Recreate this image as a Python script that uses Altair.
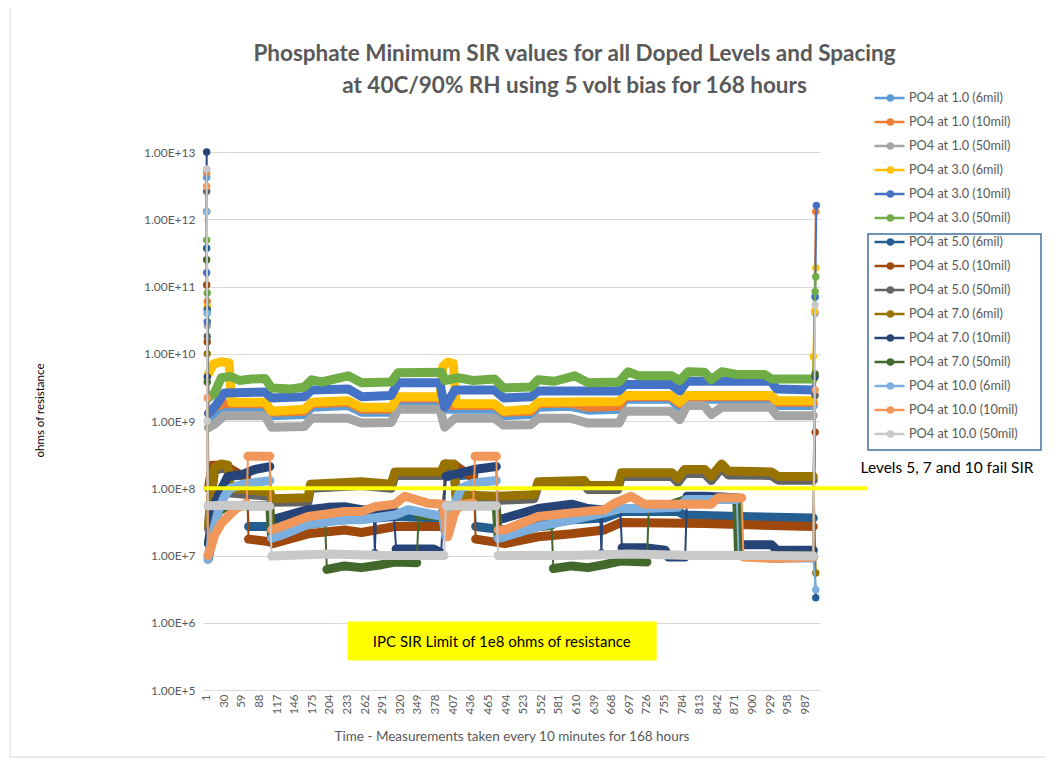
import altair as alt
import pandas as pd

# ---------------- data ----------------
SERIES = [
    "PO4 at 1.0 (6mil)", "PO4 at 1.0 (10mil)", "PO4 at 1.0  (50mil)",
    "PO4 at 3.0 (6mil)", "PO4 at 3.0 (10mil)", "PO4 at 3.0 (50mil)",
    "PO4 at 5.0 (6mil)", "PO4 at 5.0 (10mil)", "PO4 at 5.0 (50mil)",
    "PO4 at 7.0 (6mil)", "PO4 at 7.0 (10mil)", "PO4 at 7.0 (50mil)",
    "PO4 at 10.0 (6mil)", "PO4 at 10.0 (10mil)", "PO4 at 10.0 (50mil)",
]
COLORS = [
    "#5B9BD5", "#ED7D31", "#A5A5A5", "#FFC000", "#4472C4", "#70AD47",
    "#255E91", "#9E480E", "#636363", "#997300", "#264478", "#43682B",
    "#7CAFDD", "#F1975A", "#C9C9C9",
]

# each series: list of segments of (measurement, ohms); one-point segments are lone markers
S01 = [[(1, 4.2e12)], [(2, 4.0e10)],
       [(4, 1.0e9), (14, 1.3e9), (30, 1.6e9), (97, 1.6e9), (108, 1.2e9), (162, 1.25e9), (174, 1.6e9),
        (234, 1.7e9), (256, 1.35e9), (305, 1.35e9), (316, 2.0e9), (385, 2.0e9), (393, 1.5e9), (475, 1.5e9),
        (490, 1.2e9), (535, 1.25e9), (547, 1.6e9), (600, 1.65e9), (629, 1.45e9), (680, 1.5e9), (690, 2.1e9),
        (765, 2.1e9), (780, 1.6e9), (792, 2.1e9), (930, 2.1e9), (940, 1.7e9), (1000, 1.7e9)],
       [(1003, 7.0e10)]]
S02 = [[(1, 5.0e12)], [(2, 6.0e10)],
       [(4, 1.3e9), (14, 1.6e9), (30, 1.8e9), (97, 1.8e9), (108, 1.35e9), (162, 1.4e9), (174, 1.8e9),
        (234, 1.9e9), (256, 1.5e9), (305, 1.5e9), (316, 2.2e9), (385, 2.2e9), (393, 1.7e9), (475, 1.7e9),
        (490, 1.35e9), (535, 1.4e9), (547, 1.8e9), (600, 1.85e9), (629, 1.6e9), (680, 1.65e9), (690, 2.3e9),
        (765, 2.3e9), (780, 1.8e9), (792, 2.3e9), (930, 2.3e9), (940, 1.9e9), (1000, 1.9e9)],
       [(1004, 1.3e12)]]
S03 = [[(1, 5.5e12)], [(2, 2.6e10)],
       [(4, 8.0e8), (14, 9.0e8), (30, 1.2e9), (97, 1.2e9), (108, 8.1e8), (162, 8.3e8), (174, 1.1e9),
        (234, 1.1e9), (256, 9.3e8), (305, 9.5e8), (316, 1.5e9), (385, 1.5e9), (393, 8.1e8), (410, 1.1e9),
        (475, 1.1e9), (490, 8.7e8), (535, 8.8e8), (547, 1.1e9), (600, 1.1e9), (629, 9.3e8), (680, 9.3e8),
        (690, 1.4e9), (765, 1.4e9), (780, 1.05e9), (792, 1.7e9), (820, 1.7e9), (832, 1.25e9), (849, 1.6e9),
        (930, 1.6e9), (940, 1.2e9), (1000, 1.2e9)],
       [(1003, 4.0e10)]]
S04 = [[(1, 1.3e12)], [(2, 5.0e10)],
       [(4, 5.0e9), (12, 7.0e9), (25, 7.6e9), (38, 7.3e9), (42, 1.9e9), (97, 1.9e9), (108, 1.4e9),
        (162, 1.5e9), (174, 1.9e9), (234, 2.0e9), (256, 1.6e9), (305, 1.6e9), (316, 2.3e9), (385, 2.3e9),
        (390, 6.5e9), (398, 7.5e9), (407, 7.2e9), (412, 1.8e9), (475, 1.8e9), (490, 1.4e9), (535, 1.5e9),
        (547, 1.9e9), (680, 1.95e9), (690, 2.4e9), (765, 2.4e9), (780, 1.9e9), (792, 2.4e9), (930, 2.4e9),
        (940, 2.0e9), (998, 2.0e9)],
       [(1000, 9.0e9)], [(1002, 4.3e10)], [(1004, 1.9e11)]]
S05 = [[(1, 1.6e11)], [(2, 3.0e10)],
       [(4, 1.3e9), (14, 1.6e9), (30, 2.6e9), (97, 2.7e9), (108, 2.2e9), (162, 2.3e9), (174, 2.9e9),
        (234, 3.0e9), (256, 2.3e9), (305, 2.4e9), (316, 3.7e9), (385, 3.7e9), (393, 1.6e9), (410, 2.9e9),
        (475, 2.9e9), (490, 2.2e9), (535, 2.3e9), (547, 2.8e9), (680, 2.8e9), (690, 3.5e9), (765, 3.5e9),
        (780, 2.8e9), (792, 3.9e9), (930, 3.9e9), (940, 3.0e9), (1000, 2.9e9)],
       [(1003, 7.0e10)], [(1005, 1.6e12)]]
S06 = [[(1, 4.9e11)], [(2, 8.0e10)],
       [(4, 2.2e9), (14, 2.6e9), (25, 4.4e9), (40, 4.6e9), (55, 4.0e9), (75, 4.2e9), (97, 4.3e9),
        (108, 3.1e9), (140, 3.0e9), (162, 3.2e9), (174, 4.1e9), (190, 3.8e9), (201, 4.0e9), (234, 4.7e9),
        (256, 3.7e9), (305, 3.8e9), (316, 5.2e9), (388, 5.3e9), (393, 4.0e9), (415, 4.4e9), (440, 4.0e9),
        (475, 4.2e9), (490, 3.1e9), (535, 3.2e9), (547, 4.1e9), (574, 3.9e9), (607, 4.7e9), (629, 3.7e9),
        (680, 3.8e9), (695, 5.4e9), (712, 4.7e9), (767, 4.7e9), (780, 4.0e9), (794, 5.4e9), (821, 5.3e9),
        (832, 4.1e9), (849, 5.4e9), (876, 4.9e9), (920, 4.9e9), (931, 4.2e9), (1000, 4.2e9)],
       [(1003, 8.4e10)], [(1004, 1.4e11)]]
S07 = [[(1, 3.7e11)], [(2, 4.5e10)],
       [(4, 1.5e7), (14, 6.0e7), (36, 1.5e8), (67, 1.6e8)],
       [(70, 2.7e7), (105, 2.7e7), (108, 2.6e7), (168, 3.2e7), (256, 3.5e7), (311, 3.8e7), (387, 3.6e7)],
       [(395, 1.5e8), (441, 1.6e8)],
       [(444, 2.7e7), (492, 2.4e7), (547, 2.8e7), (602, 3.4e7), (656, 3.6e7), (684, 4.5e7), (777, 4.5e7),
        (788, 4.0e7), (876, 3.8e7), (1000, 3.6e7)],
       [(1004, 2.35e6)]]
S08 = [[(1, 1.05e11)], [(2, 1.5e10)],
       [(4, 1.0e8), (10, 2.2e8), (30, 2.2e8), (67, 1.4e8)],
       [(70, 1.75e7), (105, 1.6e7), (110, 1.5e7), (168, 2.1e7), (228, 2.4e7), (256, 2.2e7), (311, 2.7e7),
        (390, 2.7e7)],
       [(393, 2.3e8), (410, 2.2e8), (441, 1.4e8)],
       [(444, 1.75e7), (492, 1.5e7), (547, 1.9e7), (602, 2.1e7), (656, 2.4e7), (684, 3.1e7), (821, 3.0e7),
        (931, 2.8e7), (1000, 2.7e7)],
       [(1003, 6.8e8)]]
S09 = [[(1, 2.6e12)], [(2, 1.8e10)],
       [(4, 2.5e7), (8, 7.0e7), (14, 1.8e8), (25, 2.0e8), (36, 1.9e8), (40, 8.5e7), (105, 7.6e7),
        (108, 6.2e7), (168, 6.3e7), (172, 1.0e8), (256, 1.1e8), (305, 1.0e8), (311, 1.55e8), (387, 1.55e8),
        (393, 2.0e8), (408, 2.0e8), (412, 6.8e7), (479, 6.6e7), (540, 7.0e7), (547, 1.1e8), (623, 1.15e8),
        (629, 9.6e7), (678, 9.6e7), (684, 1.5e8), (767, 1.5e8), (777, 1.22e8), (788, 1.65e8), (821, 1.65e8),
        (832, 1.3e8), (849, 2.0e8), (860, 1.58e8), (931, 1.55e8), (942, 1.32e8), (1000, 1.32e8)],
       [(1003, 2.4e9)]]
S10 = [[(1, 1.3e12)], [(2, 1.0e10)],
       [(4, 2.7e7), (8, 8.0e7), (14, 2.0e8), (25, 2.3e8), (36, 2.2e8), (40, 1.0e8), (105, 8.8e7),
        (108, 7.0e7), (168, 7.2e7), (172, 1.15e8), (256, 1.25e8), (305, 1.15e8), (311, 1.75e8), (387, 1.75e8),
        (393, 2.3e8), (408, 2.3e8), (412, 8.0e7), (479, 7.6e7), (540, 8.0e7), (547, 1.25e8), (623, 1.3e8),
        (629, 1.1e8), (678, 1.1e8), (684, 1.7e8), (767, 1.7e8), (777, 1.4e8), (788, 1.9e8), (821, 1.9e8),
        (832, 1.5e8), (849, 2.3e8), (860, 1.8e8), (931, 1.75e8), (942, 1.5e8), (1000, 1.5e8)],
       [(1004, 5.5e6)]]
S11 = [[(1, 1.0e13)], [(2, 4.5e9)],
       [(4, 1.5e7), (14, 6.0e7), (36, 1.5e8), (60, 1.6e8), (80, 1.9e8), (105, 2.1e8)],
       [(108, 3.4e7), (168, 4.8e7), (201, 5.2e7), (228, 5.3e7), (256, 4.8e7), (276, 4.8e7)],
       [(278, 1.1e7)],
       [(280, 4.8e7), (309, 4.8e7)],
       [(313, 1.25e7), (340, 1.25e7), (375, 1.25e7), (387, 1.1e7)],
       [(395, 1.5e8), (420, 1.7e8), (441, 1.9e8), (478, 2.1e8)],
       [(481, 3.4e7), (492, 3.6e7), (547, 5.0e7), (602, 5.8e7), (629, 5.0e7), (649, 4.8e7)],
       [(651, 1.1e7)],
       [(653, 4.8e7), (682, 4.8e7)],
       [(685, 1.3e7), (722, 1.3e7), (756, 1.2e7), (761, 9.5e6), (789, 9.5e6)],
       [(792, 7.6e7), (821, 7.6e7), (874, 7.2e7)],
       [(877, 1.45e7), (931, 1.45e7), (940, 1.2e7), (1000, 1.2e7)],
       [(1003, 4.6e9)]]
S12 = [[(1, 2.5e11)], [(2, 3.8e9)],
       [(4, 9.0e6), (10, 2.0e7), (20, 4.5e7), (36, 5.5e7), (67, 5.5e7), (105, 5.5e7), (108, 1.8e7),
        (168, 2.9e7), (196, 3.1e7)],
       [(199, 6.2e6), (228, 7.0e6), (256, 6.6e6), (289, 7.3e6), (311, 8.0e6), (347, 7.8e6)],
       [(350, 4.0e7), (387, 3.8e7), (393, 5.5e7), (478, 5.5e7), (481, 1.8e7), (492, 1.9e7), (547, 2.7e7),
        (569, 2.8e7)],
       [(572, 6.4e6), (602, 7.0e6), (629, 6.6e6), (656, 7.3e6), (684, 8.3e6), (726, 8.0e6)],
       [(729, 5.0e7), (760, 5.5e7), (790, 6.8e7), (874, 6.8e7), (877, 1.0e7), (1000, 1.0e7)],
       [(1003, 5.0e9)]]
S13 = [[(1, 1.3e12)], [(2, 4.0e10)],
       [(3, 8.7e6), (10, 2.0e7), (20, 4.5e7), (30, 7.5e7), (40, 1.0e8), (60, 1.15e8), (105, 1.3e8)],
       [(108, 1.8e7), (124, 2.0e7), (168, 2.9e7), (228, 3.4e7), (256, 3.4e7), (311, 4.0e7), (333, 4.8e7),
        (390, 3.8e7), (395, 1.9e7), (405, 4.5e7), (420, 1.0e8), (441, 1.2e8), (478, 1.3e8)],
       [(481, 1.8e7), (492, 1.9e7), (547, 2.7e7), (602, 3.4e7), (656, 4.3e7), (684, 5.0e7), (722, 5.0e7),
        (777, 5.2e7), (791, 6.8e7), (874, 6.8e7)],
       [(877, 1.0e7), (931, 9.2e6), (1000, 9.2e6)],
       [(1004, 3.1e6)]]
S14 = [[(1, 3.1e12)], [(2, 2.2e9)],
       [(3, 1.0e7), (8, 1.3e7), (14, 2.0e7), (25, 3.0e7), (36, 3.8e7), (50, 5.0e7), (67, 6.0e7)],
       [(69, 3.0e8), (105, 3.0e8)],
       [(108, 2.4e7), (124, 2.7e7), (168, 3.8e7), (228, 4.5e7), (256, 4.5e7), (278, 5.3e7), (311, 5.8e7),
        (327, 7.6e7), (365, 6.0e7), (390, 5.8e7), (398, 1.9e7), (410, 4.5e7), (420, 5.8e7), (440, 6.0e7)],
       [(443, 3.0e8), (478, 3.0e8)],
       [(481, 2.4e7), (492, 2.4e7), (547, 3.8e7), (602, 4.3e7), (656, 4.8e7), (673, 6.0e7), (700, 7.6e7),
        (722, 5.8e7), (832, 5.8e7), (843, 7.2e7), (882, 7.2e7)],
       [(885, 9.5e6), (940, 9.0e6), (1000, 9.5e6)],
       [(1003, 2.9e9)]]
S15 = [[(1, 5.6e12)], [(2, 1.0e9)],
       [(3, 5.5e7), (50, 5.6e7), (105, 5.4e7)],
       [(108, 9.8e6), (200, 1.05e7), (300, 1.0e7), (392, 1.0e7)],
       [(395, 5.5e7), (478, 5.5e7)],
       [(481, 1.0e7), (600, 1.0e7), (700, 1.05e7), (800, 1.0e7), (900, 1.0e7), (1000, 9.8e6)],
       [(1003, 5.3e10)]]

ALL = [S01, S02, S03, S04, S05, S06, S07, S08, S09, S10, S11, S12, S13, S14, S15]

X_TICKS = [1, 30, 59, 88, 117, 146, 175, 204, 233, 262, 291, 320, 349, 378, 407, 436, 465, 494,
           523, 552, 581, 610, 639, 668, 697, 726, 755, 784, 813, 842, 871, 900, 929, 958, 987]
Y_TICKS = [1e5, 1e6, 1e7, 1e8, 1e9, 1e10, 1e11, 1e12, 1e13]
SIR_LIMIT = 1e8
IPC_NOTE = "IPC SIR Limit of 1e8 ohms of resistance"
FAIL_NOTE = "Levels 5, 7 and 10 fail SIR"

# marker legend keys (a separate key set so the marker legend stays its own legend)
DOT_KEYS = [s + " " for s in SERIES]

# ---------------- build table ----------------
rows = []
for name, key, segs in zip(SERIES, DOT_KEYS, ALL):
    for j, seg in enumerate(segs):
        for (m, v) in seg:
            rows.append({"series": name, "series_dot": key, "seg": j, "n": len(seg), "m": m, "v": v})
df = pd.DataFrame(rows)

FONT = "Lato"
XS = alt.Scale(domain=[-5, 1011], nice=False, zero=False)
YS = alt.Scale(type="log", domain=[1e5, 1e13], nice=False)
X_AXIS = alt.Axis(values=X_TICKS, labelAngle=-90, grid=False, ticks=False,
                  domainColor="#D9D9D9", labelColor="#595959", labelFontSize=11.5,
                  labelPadding=4, title="Time - Measurements taken every 10 minutes for 168 hours",
                  titleFontSize=13.5, titleColor="#595959", titleFontWeight="normal",
                  titlePadding=15)
Y_AXIS = alt.Axis(values=Y_TICKS, labelExpr="replace(format(datum.value, '.2e'), 'e', 'E')",
                  grid=True, gridColor="#D9D9D9", domain=False, ticks=False,
                  labelColor="#595959", labelFontSize=12, labelPadding=8,
                  title="ohms of resistance", titleFontSize=11.5, titleFontWeight="normal",
                  titleColor="#000000", titleX=-163, titleY=258, titleAngle=-90,
                  titleAlign="center", titleBaseline="middle")


def X(field):
    return alt.X(field, scale=XS, axis=X_AXIS)


def Y(field):
    return alt.Y(field, scale=YS, axis=Y_AXIS)


stroke_scale = alt.Scale(domain=SERIES, range=COLORS)
fill_scale = alt.Scale(domain=DOT_KEYS, range=COLORS)
leg_lines = alt.Legend(title=None, orient="none", legendX=670, legendY=-66, symbolType="stroke",
                       symbolSize=900, symbolStrokeWidth=2.5, clipHeight=24, rowPadding=0, padding=0,
                       labelFont=FONT, labelFontSize=12.7, labelColor="#595959", labelOffset=3,
                       labelLimit=220)
leg_dots = alt.Legend(title=None, orient="none", legendX=681, legendY=-66, symbolType="circle",
                      symbolSize=55, symbolStrokeWidth=0, clipHeight=24, rowPadding=0, padding=0,
                      labelExpr="''", labelFontSize=12.7)

base = alt.Chart(df)
layers = []
for name in SERIES:
    b = base.transform_filter(alt.datum.series == name)
    thin = b.mark_line(strokeWidth=2).encode(
        x=X("m:Q"), y=Y("v:Q"), order="m:Q",
        stroke=alt.Stroke("series:N", scale=stroke_scale, legend=leg_lines))
    band = b.transform_filter(alt.datum.n > 1).mark_line(
        strokeWidth=9, strokeCap="round", strokeJoin="round").encode(
        x=X("m:Q"), y=Y("v:Q"), order="m:Q", detail="seg:N",
        stroke=alt.Stroke("series:N", scale=stroke_scale, legend=leg_lines))
    dots = b.transform_filter(alt.datum.n == 1).mark_circle(size=55, opacity=1).encode(
        x=X("m:Q"), y=Y("v:Q"),
        fill=alt.Fill("series_dot:N", scale=fill_scale, legend=leg_dots))
    layers += [thin, band, dots]

limit_df = pd.DataFrame({"v": [SIR_LIMIT]})
limit = alt.Chart(limit_df).mark_rule(color="#FFFF00", strokeWidth=4).encode(
    y=Y("v:Q"), x=alt.value(0), x2=alt.value(665))

ipc_df = pd.DataFrame({"m0": [233], "m1": [742], "v0": [2.74e5], "v1": [1.04e6],
                       "mt": [487], "vt": [5.2e5], "label": [IPC_NOTE]})
ipc_box = alt.Chart(ipc_df).mark_rect(color="#FFFF00").encode(
    x=X("m0:Q"), x2="m1:Q", y=Y("v0:Q"), y2="v1:Q")
ipc_txt = alt.Chart(ipc_df).mark_text(font=FONT, fontSize=15, color="#000000").encode(
    x=X("mt:Q"), y=Y("vt:Q"), text="label:N")

one = pd.DataFrame({"a": [0]})
fail_box = alt.Chart(one).mark_rect(fillOpacity=0, stroke="#41719C", strokeWidth=1.5).encode(
    x=alt.value(665), x2=alt.value(838), y=alt.value(82), y2=alt.value(298))
fail_txt = alt.Chart(one).mark_text(font=FONT, fontSize=15.5, color="#000000").encode(
    x=alt.value(744), y=alt.value(316), text=alt.value(FAIL_NOTE))

# light chart-area border (left and bottom edges of the Excel chart frame)
frame_left = alt.Chart(one).mark_rule(color="#D9D9D9", strokeWidth=1).encode(
    x=alt.value(-193), y=alt.value(-160), y2=alt.value(605))
frame_bottom = alt.Chart(one).mark_rule(color="#D9D9D9", strokeWidth=1).encode(
    x=alt.value(-193), x2=alt.value(850), y=alt.value(605))

chart = alt.layer(frame_left, frame_bottom, *layers, limit, ipc_box, ipc_txt, fail_box, fail_txt).properties(
    width=617, height=538,
    padding={"left": 195, "top": 144, "right": 226, "bottom": 71},
    autosize=alt.AutoSizeParams(type="none"),
    title=alt.TitleParams(
        text=["Phosphate Minimum SIR values  for all Doped Levels and Spacing",
              "at 40C/90% RH using 5 volt bias for 168 hours"],
        font=FONT, fontSize=22.5, fontWeight="bold", color="#595959", anchor="middle",
        frame="group", dx=63, offset=-106, lineHeight=32),
).configure_view(strokeWidth=0).configure_axis(labelFont=FONT, titleFont=FONT)

chart.save("out.html", embed_options={"renderer": "svg", "actions": False})
